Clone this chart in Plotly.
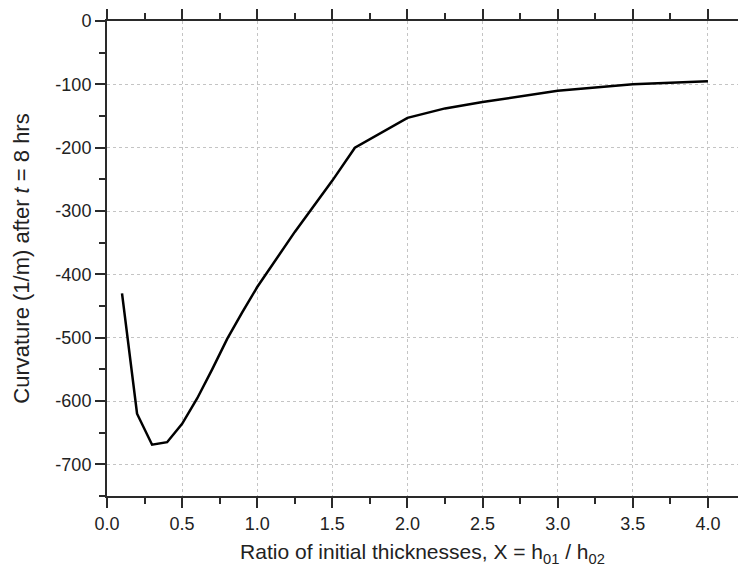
import plotly.graph_objects as go

x_ratio = [0.1, 0.2, 0.3, 0.4, 0.5, 0.6, 0.7, 0.8, 0.9, 1.0, 1.25, 1.5, 1.65, 2.0, 2.25, 2.5, 3.0, 3.5, 4.0]
curvature = [-430, -620, -669, -665, -636, -596, -550, -502, -460, -420, -333, -252, -200, -153, -138, -128, -110, -100, -95]

y_ticks = [0, -100, -200, -300, -400, -500, -600, -700]
y_tick_text = ["0", "-100", "-200", "-300", "-400", "-500", "-600", "-700"]
x_ticks = [0.0, 0.5, 1.0, 1.5, 2.0, 2.5, 3.0, 3.5, 4.0]
x_tick_text = ["0.0", "0.5", "1.0", "1.5", "2.0", "2.5", "3.0", "3.5", "4.0"]

fig = go.Figure()
fig.add_trace(go.Scatter(x=x_ratio, y=curvature, mode="lines",
                         line=dict(color="black", width=2.5), showlegend=False))

font_family = "Liberation Sans, Arial, sans-serif"
axis_col = "#2a2a2a"
grid_col = "#c4c4c4"
fig.update_layout(
    width=738, height=578,
    margin=dict(l=107, r=0, t=21, b=82),
    plot_bgcolor="white", paper_bgcolor="white",
    font=dict(family=font_family, color="#222", size=18),
    xaxis=dict(
        range=[0, 4.2], tickvals=x_ticks, ticktext=x_tick_text,
        showline=True, linecolor=axis_col, linewidth=2, mirror="ticks",
        ticks="outside", ticklen=10, tickwidth=2, tickcolor=axis_col,
        minor=dict(dtick=0.25, ticks="outside", ticklen=6, tickwidth=2, tickcolor=axis_col, showgrid=False),
        showgrid=True, gridcolor=grid_col, griddash="3px,3px", gridwidth=1,
        zeroline=False,
        title=dict(text="Ratio of initial thicknesses, X = h<sub>01</sub> / h<sub>02</sub>",
                   font=dict(size=21), standoff=12),
        tickfont=dict(size=18),
    ),
    yaxis=dict(
        range=[-750, 0], tickvals=y_ticks, ticktext=y_tick_text,
        showline=True, linecolor=axis_col, linewidth=2,
        ticks="outside", ticklen=10, tickwidth=2, tickcolor=axis_col,
        minor=dict(dtick=50, ticks="outside", ticklen=6, tickwidth=2, tickcolor=axis_col, showgrid=False),
        showgrid=True, gridcolor=grid_col, griddash="3px,3px", gridwidth=1,
        zeroline=False,
        title=dict(text="Curvature (1/m) after <i>t</i> = 8 hrs", font=dict(size=22), standoff=20),
        tickfont=dict(size=18),
    ),
)

fig.write_html("out.html")
